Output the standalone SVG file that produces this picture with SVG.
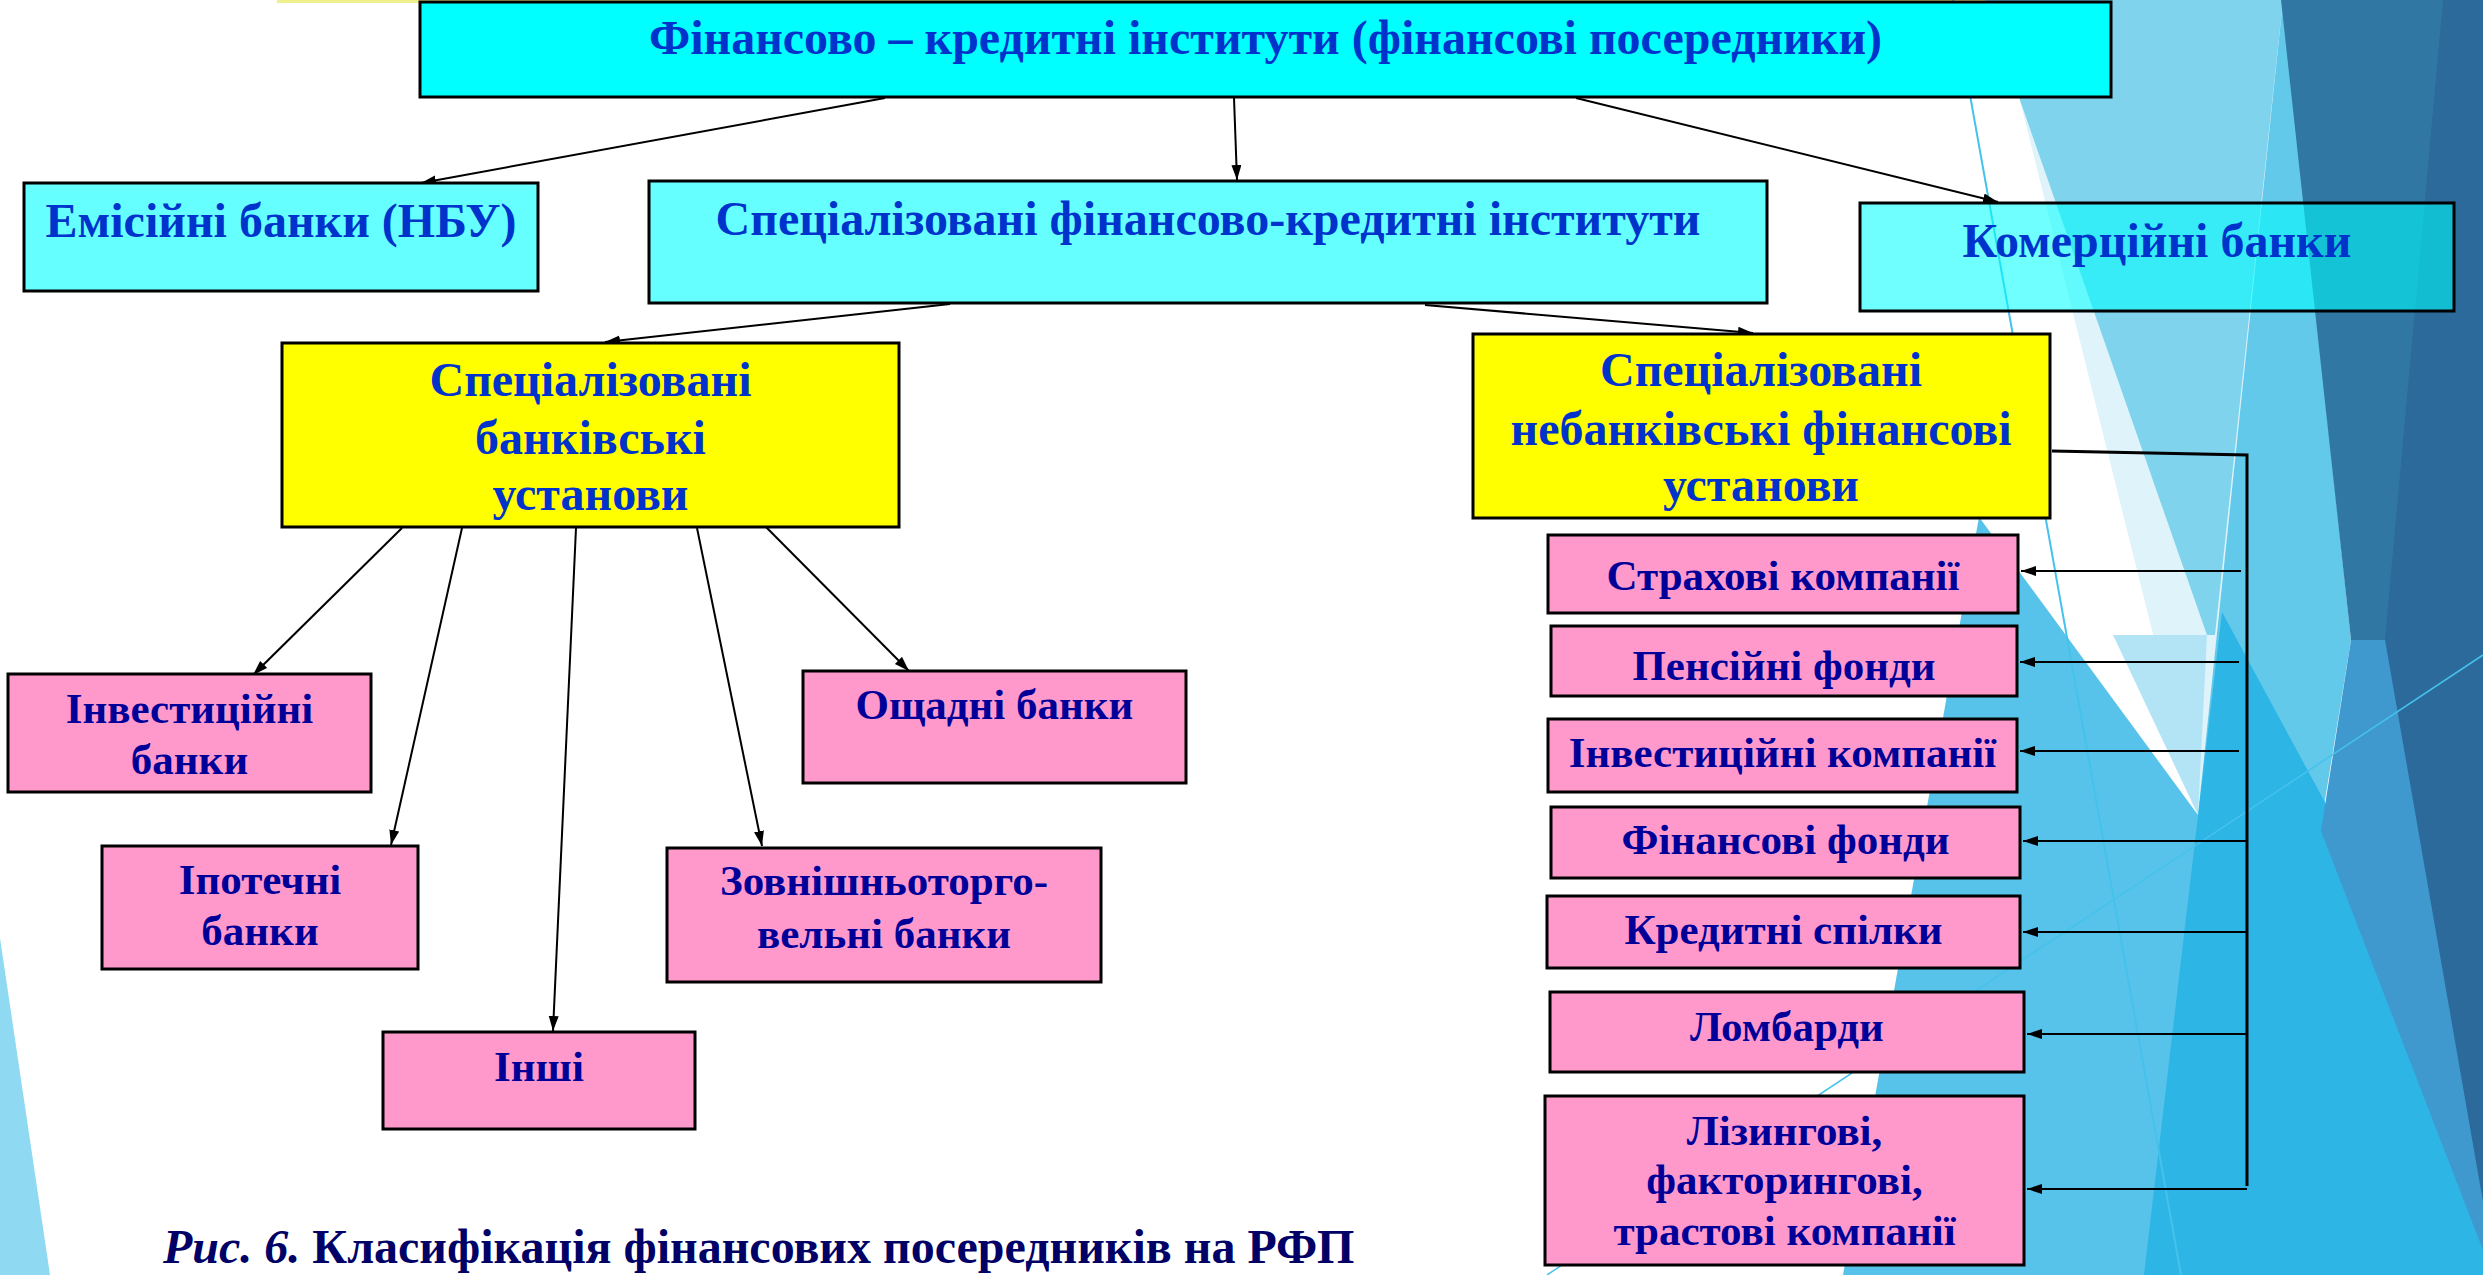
<svg xmlns="http://www.w3.org/2000/svg" width="2483" height="1275" viewBox="0 0 2483 1275">
<defs>
<marker id="ah" markerUnits="userSpaceOnUse" markerWidth="16" markerHeight="12" refX="15" refY="5" orient="auto">
<path d="M0,0 L15,5 L0,10 z" fill="#000"/>
</marker>
<style>
.bx{stroke:#000;stroke-width:3}
.cy{fill:#00FFFF}
.lc{fill:#66FFFF}
.ye{fill:#FFFF00}
.pk{fill:#FF99CC}
.t1{font-family:"Liberation Serif","Times New Roman",serif;font-weight:bold;font-size:48px;fill:#0033CC;text-anchor:middle}
.t2{font-family:"Liberation Serif","Times New Roman",serif;font-weight:bold;font-size:43px;fill:#000099;text-anchor:middle}
.cap{font-family:"Liberation Serif","Times New Roman",serif;font-weight:bold;font-size:48px;fill:#000066}
.cn{stroke:#000;stroke-width:2;fill:none;marker-end:url(#ah)}
.cn2{stroke:#000;stroke-width:3;fill:none}
</style>
</defs>
<g id="background">
<rect x="0" y="0" width="2483" height="1275" fill="#FFFFFF"/>
<rect x="277" y="0" width="1958" height="3" fill="#EEF08C"/>
<polygon points="1995,0 2283,0 2198,815" fill="#DFF3FA"/>
<polygon points="1985,0 2283,0 2215,635 2207,635" fill="#7FD3ED"/>
<polygon points="2113,635 2207,635 2198,815" fill="#B3E4F6"/>
<polygon points="2283,0 2351,640 2320,831 2198,815" fill="#63C9EB"/>
<polygon points="1979,517 2198,815 2483,1239 2483,1275 1843,1275" fill="#57C3EA"/>
<polygon points="2222,612 2340,830 2483,1120 2483,1275 2144,1275" fill="#2DB5E5"/>
<polygon points="2281,0 2483,0 2483,1202 2351,640" fill="#3177A4"/>
<polygon points="2443,0 2483,0 2483,1202 2385,640" fill="#2B6A9A"/>
<polygon points="2351,640 2385,640 2483,1202 2483,1250 2321,831" fill="#3F98CE"/>
<polygon points="0,938 50,1275 0,1275" fill="#8FDAF2"/>
<line x1="1953" y1="0" x2="2181" y2="1275" stroke="#45C2EC" stroke-width="2"/>
<line x1="1547" y1="1275" x2="2483" y2="655" stroke="#45C2EC" stroke-width="1.5"/>
</g>
<g id="connectors">
<line class="cn" x1="885" y1="98" x2="421" y2="183"/>
<line class="cn" x1="1234" y1="98" x2="1237" y2="180"/>
<line class="cn" x1="1576" y1="98" x2="1998" y2="202"/>
<line class="cn" x1="950" y1="304" x2="605" y2="342"/>
<line class="cn" x1="1425" y1="305" x2="1753" y2="333"/>
<line class="cn" x1="402" y1="528" x2="253" y2="675"/>
<line class="cn" x1="462" y1="528" x2="391" y2="845"/>
<line class="cn" x1="576" y1="528" x2="553" y2="1031"/>
<line class="cn" x1="697" y1="528" x2="762" y2="846"/>
<line class="cn" x1="766" y1="527" x2="909" y2="671"/>
<polyline class="cn2" points="2052,451 2247,455 2247,1186"/>
<line class="cn" x1="2241" y1="571" x2="2021" y2="571"/>
<line class="cn" x1="2239" y1="662" x2="2020" y2="662"/>
<line class="cn" x1="2239" y1="751" x2="2020" y2="751"/>
<line class="cn" x1="2247" y1="841" x2="2023" y2="841"/>
<line class="cn" x1="2247" y1="932" x2="2023" y2="932"/>
<line class="cn" x1="2247" y1="1034" x2="2027" y2="1034"/>
<line class="cn" x1="2247" y1="1189" x2="2027" y2="1189"/>
</g>
<g id="n-top"><rect class="bx cy" x="420" y="2" width="1691" height="95"/><text class="t1" x="1265.5" y="54">Фінансово – кредитні інститути (фінансові посередники)</text></g>
<g id="n-emis"><rect class="bx lc" x="24" y="183" width="514" height="108"/><text class="t1" x="281" y="237">Емісійні банки (НБУ)</text></g>
<g id="n-specfk"><rect class="bx lc" x="649" y="181" width="1118" height="122"/><text class="t1" x="1208" y="235">Спеціалізовані фінансово-кредитні інститути</text></g>
<g id="n-comm"><rect class="bx" x="1860" y="203" width="594" height="108" fill="#00FFFF" fill-opacity="0.56"/><text class="t1" x="2157" y="257">Комерційні банки</text></g>
<g id="n-specbank"><rect class="bx ye" x="282" y="343" width="617" height="184"/><text class="t1" x="590.5" y="396">Спеціалізовані</text><text class="t1" x="590.5" y="454">банківські</text><text class="t1" x="590.5" y="510">установи</text></g>
<g id="n-specnonbank"><rect class="bx ye" x="1473" y="334" width="577" height="184"/><text class="t1" x="1761" y="386">Спеціалізовані</text><text class="t1" x="1761" y="445">небанківські фінансові</text><text class="t1" x="1761" y="501">установи</text></g>
<g id="n-invbank"><rect class="bx pk" x="8" y="674" width="363" height="118"/><text class="t2" x="189.5" y="723">Інвестиційні</text><text class="t2" x="189.5" y="774">банки</text></g>
<g id="n-ipot"><rect class="bx pk" x="102" y="846" width="316" height="123"/><text class="t2" x="260" y="894">Іпотечні</text><text class="t2" x="260" y="945">банки</text></g>
<g id="n-inshi"><rect class="bx pk" x="383" y="1032" width="312" height="97"/><text class="t2" x="539" y="1081">Інші</text></g>
<g id="n-zovn"><rect class="bx pk" x="667" y="848" width="434" height="134"/><text class="t2" x="884" y="895">Зовнішньоторго-</text><text class="t2" x="884" y="948">вельні банки</text></g>
<g id="n-oshch"><rect class="bx pk" x="803" y="671" width="383" height="112"/><text class="t2" x="994.5" y="719">Ощадні банки</text></g>
<g id="n-strah"><rect class="bx pk" x="1548" y="535" width="470" height="78"/><text class="t2" x="1783" y="590">Страхові компанії</text></g>
<g id="n-pens"><rect class="bx pk" x="1551" y="626" width="466" height="70"/><text class="t2" x="1784" y="680">Пенсійні фонди</text></g>
<g id="n-invcomp"><rect class="bx pk" x="1548" y="719" width="469" height="73"/><text class="t2" x="1782.5" y="767">Інвестиційні компанії</text></g>
<g id="n-finfond"><rect class="bx pk" x="1551" y="807" width="469" height="71"/><text class="t2" x="1785.5" y="854">Фінансові фонди</text></g>
<g id="n-kred"><rect class="bx pk" x="1547" y="896" width="473" height="72"/><text class="t2" x="1783.5" y="944">Кредитні спілки</text></g>
<g id="n-lomb"><rect class="bx pk" x="1550" y="992" width="474" height="80"/><text class="t2" x="1787" y="1041">Ломбарди</text></g>
<g id="n-lizing"><rect class="bx pk" x="1545" y="1096" width="479" height="169"/><text class="t2" x="1784.5" y="1145">Лізингові,</text><text class="t2" x="1784.5" y="1194">факторингові,</text><text class="t2" x="1784.5" y="1245">трастові компанії</text></g>
<g id="caption"><text class="cap" x="163" y="1263"><tspan font-style="italic">Рис. 6.</tspan> Класифікація фінансових посередників на РФП</text></g>
</svg>
